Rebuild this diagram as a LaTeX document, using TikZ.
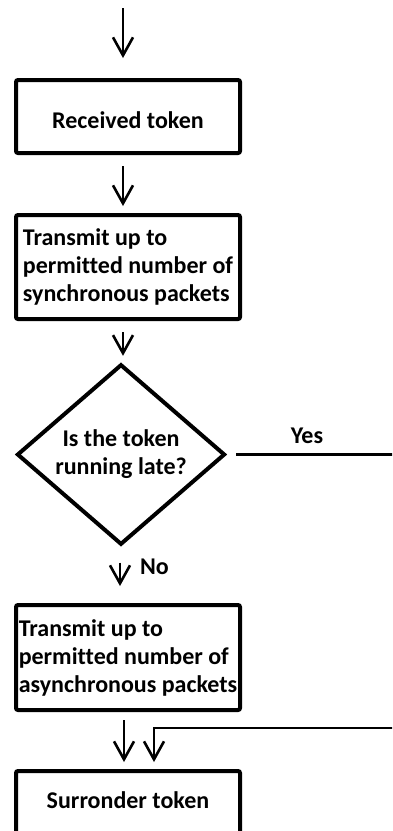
\documentclass[tikz,border=0pt]{standalone}
\usepackage{fontspec}
\setmainfont[Ligatures=NoCommon]{Carlito}
\usetikzlibrary{shapes.geometric,arrows.meta}
\tikzset{
    every node/.style={font=\bfseries\fontsize{24}{28}\selectfont}
}
\tikzset{
    stepbox/.style={draw, line width=4pt, rounded corners=2pt,
    	minimum width=224pt, inner sep=0pt, align=left}
}
\tikzset{
    decision/.style={diamond, draw, line width=4pt, minimum width=208pt,
    	minimum height=148pt, inner sep=0pt, align=center}
}
\tikzset{
	flow/.style={line width=2.6pt, -{Straight Barb[length=18pt,width=20pt]}}
}

\begin{document}
\begin{tikzpicture}[x=1pt, y=-1pt]
	\clip (0,0) rectangle (392,831);
	\coordinate (0) at (123,8);
	\node (1) [stepbox, anchor=base, text height=48pt, text depth=25pt] at (128,128) {Received token};
	\node (2) [stepbox, minimum height=104pt] at (128,267) {Transmit up to\\permitted number of\\synchronous packets};
	\node (3) [decision] at (121,454.5) {Is the token\\running late?};
	\node (4) [stepbox, minimum height=105pt] at (128,657.5) {Transmit up to\\permitted number of\\asynchronous packets};
	\node (5) [stepbox, anchor=base, text height=37pt, text depth=50pt] at (128,808) {Surronder token};
	\node (yes) [anchor=base] at (307,443) {Yes};
	\node (no) [anchor=base] at (154.5,574) {No};
	
	\draw[flow, shorten >=20pt] (0) -- ([xshift=-5pt]1.north);
	\draw[flow, shorten <=11pt, shorten >=7pt] ([xshift=-5pt]1.south) -- ([xshift=-5pt]2.north);
	\draw[flow, shorten <=11pt, shorten >=6.5pt] ([xshift=-5pt]2.south) -- ([xshift=2pt]3.north);
	\draw[flow, shorten <=16pt, shorten >=17pt] ([xshift=-1pt]3.south) -- ([xshift=-8pt]4.north);
	\draw[flow, shorten <=8pt, shorten >=7pt] ([xshift=-4pt]4.south) -- ([xshift=-4pt]5.north);
	\draw[flow, shorten <=9pt, shorten >=7pt] (3.east) -- (400,454.5) -- (400,728) -| ([xshift=26pt]5.north);
\end{tikzpicture}
\end{document}
